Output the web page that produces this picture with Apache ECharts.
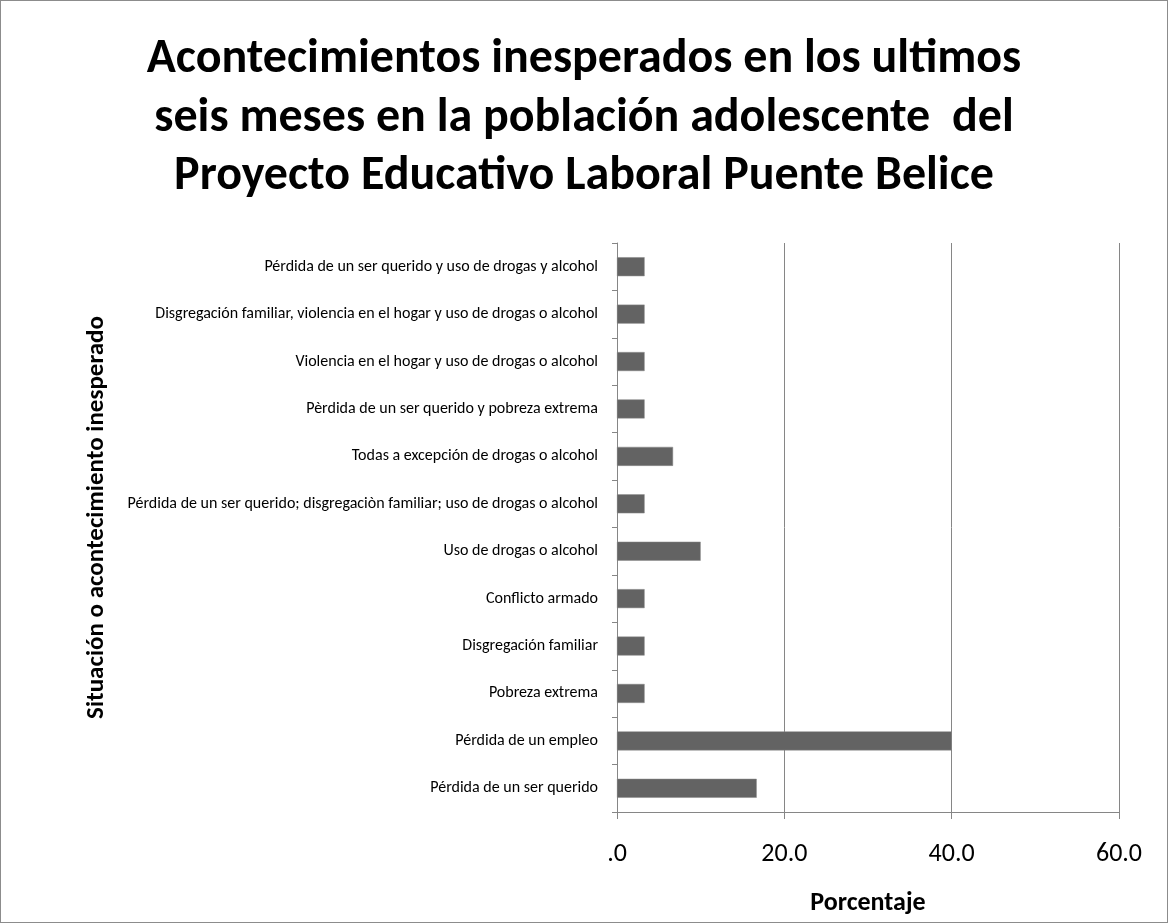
<!DOCTYPE html>
<html>
<head>
<meta charset="utf-8">
<script src="https://cdn.jsdelivr.net/npm/echarts@6/dist/echarts.min.js"></script>
<style>
  html, body { margin: 0; padding: 0; background: #fff; }
  #chart { width: 1168px; height: 923px; box-sizing: border-box; border: 1px solid #8c8c8c; }
</style>
</head>
<body>
<div id="chart"></div>
<script>
// Categories listed bottom to top as they appear on the vertical axis
const categories = [
  'Pérdida de un ser querido',
  'Pérdida de un empleo',
  'Pobreza extrema',
  'Disgregación familiar',
  'Conflicto armado',
  'Uso de drogas o alcohol',
  'Pérdida de un ser querido; disgregaciòn familiar; uso de drogas o alcohol',
  'Todas a excepción de drogas o alcohol',
  'Pèrdida de un ser querido y pobreza extrema',
  'Violencia en el hogar y uso de drogas o alcohol',
  'Disgregación familiar, violencia en el hogar y uso de drogas o alcohol',
  'Pérdida de un ser querido y uso de drogas y alcohol'
];
const porcentajes = [16.7, 40.0, 3.3, 3.3, 3.3, 10.0, 3.3, 6.7, 3.3, 3.3, 3.3, 3.3];
const xTicks = [0, 20, 40, 60];

const titleText = 'Acontecimientos inesperados en los ultimos\nseis meses en la población adolescente  del\nProyecto Educativo Laboral Puente Belice';
const font = "Carlito, 'Open Sans', 'Noto Sans', sans-serif";

const chart = echarts.init(document.getElementById('chart'), null, { renderer: 'canvas' });
chart.setOption({
  animation: false,
  backgroundColor: '#fff',
  title: {
    text: titleText,
    left: 'center',
    top: 25,
    textStyle: { fontFamily: font, fontWeight: 'bold', fontSize: 48, lineHeight: 58.5, color: '#000' }
  },
  grid: { left: 616, right: 48, top: 242, bottom: 110, containLabel: false },
  xAxis: {
    type: 'value',
    min: xTicks[0],
    max: xTicks[xTicks.length - 1],
    interval: 20,
    name: 'Porcentaje',
    nameLocation: 'middle',
    nameGap: 78,
    nameTextStyle: { fontFamily: font, fontWeight: 'bold', fontSize: 26, color: '#000' },
    axisLine: { show: true, lineStyle: { color: '#868686', width: 1 } },
    axisTick: { show: true, length: 7, lineStyle: { color: '#868686' } },
    axisLabel: {
      fontFamily: font, fontSize: 26, color: '#000', margin: 29,
      formatter: v => (v === 0 ? '.0' : v.toFixed(1))
    },
    splitLine: { show: true, lineStyle: { color: '#868686', width: 1 } }
  },
  yAxis: {
    type: 'category',
    data: categories,
    name: 'Situación o acontecimiento inesperado',
    nameLocation: 'middle',
    nameGap: 508,
    nameRotate: 90,
    nameTextStyle: { fontFamily: font, fontWeight: 'bold', fontSize: 25, color: '#000', padding: [0, 0, 0, 20] },
    axisLine: { show: true, lineStyle: { color: '#868686', width: 1 } },
    axisTick: { show: true, length: 5, lineStyle: { color: '#868686' } },
    axisLabel: { fontFamily: font, fontSize: 16, color: '#000', margin: 19 },
    splitLine: { show: false }
  },
  series: [{
    type: 'bar',
    data: porcentajes,
    barWidth: 19,
    itemStyle: { color: '#636363', borderColor: '#8a8a8a', borderWidth: 0.5 }
  }]
});
</script>
</body>
</html>
